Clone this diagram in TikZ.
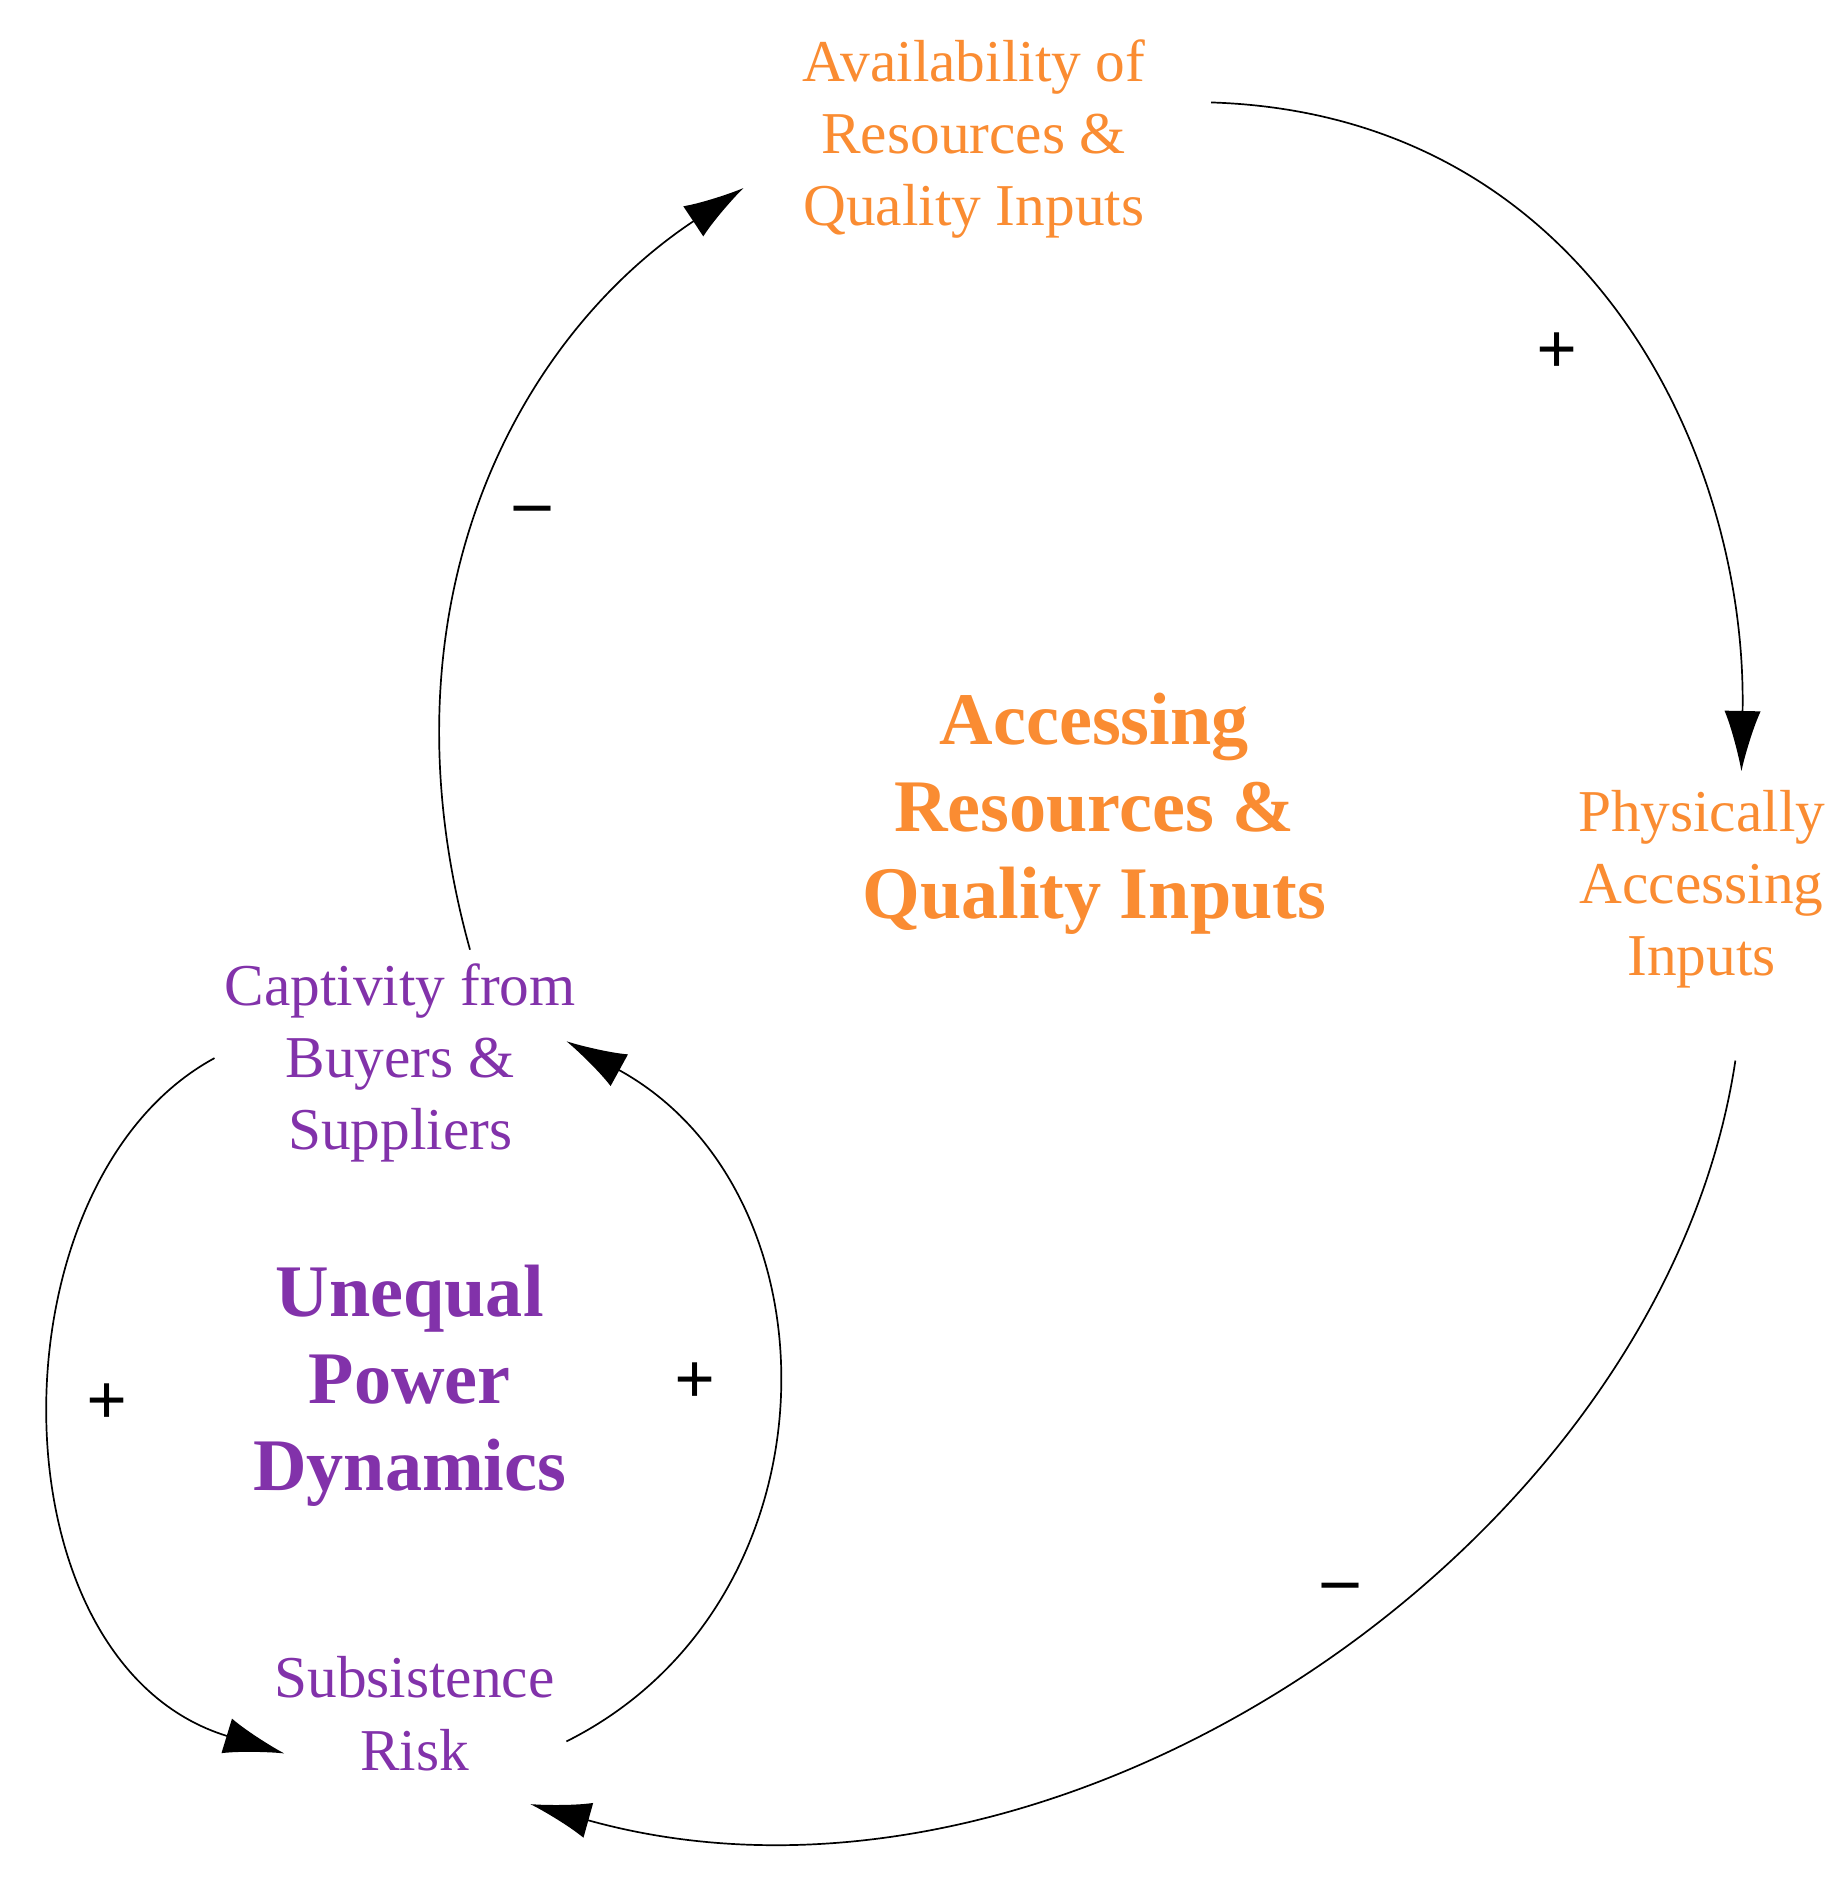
\documentclass[tikz,border=0pt]{standalone}
\usepackage{fontspec}
\setmainfont{Liberation Serif}
\usetikzlibrary{arrows.meta}
\definecolor{loopor}{RGB}{250,140,50}
\definecolor{looppu}{RGB}{130,50,170}
\begin{document}
\begin{tikzpicture}[x=0.01cm, y=-0.01cm,
    var/.style={align=center, font=\fontsize{14}{17}\selectfont},
    title/.style={align=center, font=\fontsize{17.5}{20.5}\selectfont\bfseries},
    link/.style={-{Latex[length=5mm,width=3mm]}, thin},
    sign/.style={font=\fontsize{17}{17}\selectfont\bfseries}]
    \useasboundingbox (0,0) rectangle (1530,1560);

    % Outer loop
    \node[var, text=loopor] (avail) at (808,115) {Availability of\\Resources \&\\Quality Inputs};
    \node[var, text=loopor] (phys) at (1412,738) {Physically\\Accessing\\Inputs};
    \node[title, text=loopor] (outer) at (908,675) {Accessing\\Resources \&\\Quality Inputs};

    % Inner loop
    \node[var, text=looppu] (capt) at (332,882) {Captivity from\\Buyers \&\\Suppliers};
    \node[var, text=looppu] (subs) at (344,1422) {Subsistence\\Risk};
    \node[title, text=looppu] (inner) at (340,1150) {Unequal\\Power\\Dynamics};

    % Connector ends
    \coordinate (availE) at (1005,85);
    \coordinate (availW) at (617,156);
    \coordinate (physN) at (1445,640);
    \coordinate (physS) at (1440,880);
    \coordinate (captN) at (390,788);
    \coordinate (captW) at (178,878);
    \coordinate (captE) at (470,864);
    \coordinate (subsW) at (236,1455);
    \coordinate (subsE) at (470,1445);
    \coordinate (subsS) at (440,1497);

    % Arrows
    \draw[link] (availE) .. controls (1320,95) and (1450,380) .. (physN);
    \draw[link] (physS) .. controls (1380,1280) and (880,1620) .. (subsS);
    \draw[link] (captN) .. controls (310,500) and (430,280) .. (availW);
    \draw[link] (captW) .. controls (-10,980) and (-10,1380) .. (subsW);
    \draw[link] (subsE) .. controls (700,1330) and (700,990) .. (captE);

    % Polarities
    \node[sign] (s1) at (1292,293) {+};
    \node[sign] (s2) at (442,428) {--};
    \node[sign] (s3) at (1112,1322) {--};
    \node[sign] (s4) at (89,1165) {+};
    \node[sign] (s5) at (577,1148) {+};
\end{tikzpicture}
\end{document}
